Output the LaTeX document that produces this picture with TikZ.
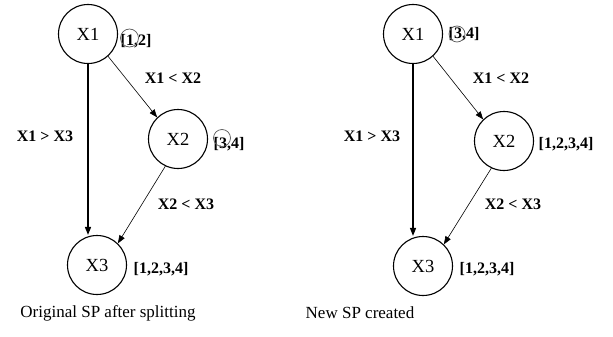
\documentclass[tikz,border=0pt]{standalone}
\usepackage{fontspec}
\setmainfont{Liberation Serif}
\usetikzlibrary{arrows.meta}
\begin{document}
\begin{tikzpicture}[x=1pt,y=-1pt,
  var/.style={circle,draw,line width=1.1pt,minimum size=59pt,inner sep=0pt,font=\fontsize{18.5}{20}\selectfont},
  lab/.style={font=\bfseries\fontsize{16}{18}\selectfont,inner sep=0pt},
  capt/.style={font=\fontsize{17}{19}\selectfont,inner sep=0pt},
  arr/.style={-{Triangle[length=8pt,width=6pt]},line width=0.6pt},
  varr/.style={-{Triangle[length=8pt,width=6pt]},line width=1.2pt},
  ring/.style={circle,draw=black!65,line width=0.7pt,inner sep=0pt}
]
\useasboundingbox (0,0) rectangle (613,337);
% left graph
\node[var] (A1) at (88,34) {X1};
\node[var] (A2) at (178,139) {X2};
\node[var] (A3) at (97,265) {X3};
\draw[varr] (A1.south) -- (A1.south |- A3.north);
\draw[arr] (A1.-48) -- (A2.134);
\draw[arr] (A2.245) -- (A3.46);
\node[lab] (la1) at (136,41) {[1,2]};
\node[ring,minimum width=13pt,minimum height=18pt] (ra1) at (129.5,38) {};
\node[lab] (la2) at (229,144) {[3,4]};
\node[ring,minimum width=14pt,minimum height=17pt] (ra2) at (222,138) {};
\node[lab] (la3) at (161,269) {[1,2,3,4]};
\node[lab] (ea1) at (173,78) {X1 < X2};
\node[lab] (ea2) at (45,136) {X1 > X3};
\node[lab] (ea3) at (186,204) {X2 < X3};
\node[capt] (capA) at (108,313) {Original SP after splitting};
% right graph
\node[var] (B1) at (413,34) {X1};
\node[var] (B2) at (504,141) {X2};
\node[var] (B3) at (423,266) {X3};
\draw[varr] (B1.south) -- (B1.south |- B3.north);
\draw[arr] (B1.-48) -- (B2.134);
\draw[arr] (B2.245) -- (B3.46);
\node[lab] (lb1) at (464,34) {[3,4]};
\node[ring,minimum width=12pt,minimum height=16pt] (rb1) at (457,34) {};
\node[lab] (lb2) at (566,144) {[1,2,3,4]};
\node[lab] (lb3) at (487,269) {[1,2,3,4]};
\node[lab] (eb1) at (501,78) {X1 < X2};
\node[lab] (eb2) at (372,136) {X1 > X3};
\node[lab] (eb3) at (513,204) {X2 < X3};
\node[capt] (capB) at (360,313) {New SP created};
\end{tikzpicture}
\end{document}
